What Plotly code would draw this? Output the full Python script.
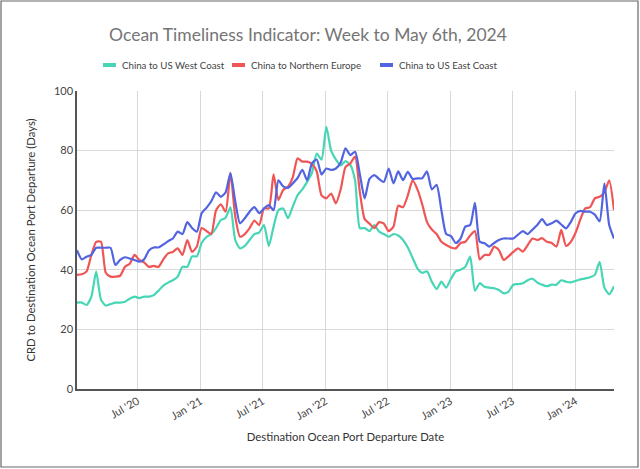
import pandas as pd
import plotly.graph_objects as go

# Biweekly dates (week ending), Jan 2020 - Apr 2024
dates = pd.date_range("2020-01-06", periods=113, freq="14D")

west_coast = [29, 29, 28.2, 31, 39.4, 30, 28, 28.5, 29, 29,
              29.3, 30.3, 31, 30.5, 31, 31, 31.5, 33, 34.7, 35.7,
              36.5, 37.7, 41, 41, 44.5, 44.5, 49, 51, 52, 54,
              56.7, 57.5, 61, 50, 47.2, 48, 50, 52, 52.5, 55,
              48, 54.5, 60, 60.6, 57.3, 61.2, 65, 67, 69.5, 72.5,
              79, 77, 88, 80, 77, 75, 76.5, 75.2, 70, 54,
              54, 53, 55, 52.8, 52, 51.1, 52, 51.5, 50, 47.5,
              44, 40.5, 39, 39.5, 36, 33.5, 36, 34, 37, 39.5,
              40, 41, 44.4, 33, 35.5, 34.3, 34, 33.8, 33.2, 32.1,
              32.7, 35, 35.2, 35.5, 36.5, 37, 35.7, 35, 34.5, 35,
              35, 36.5, 36, 35.8, 36.3, 36.8, 37.1, 37.5, 38.3, 42.7,
              34, 31.8, 34.5]

northern_europe = [38.3, 38.5, 39.5, 45, 49.4, 49.4, 39, 37.7, 37.7, 38,
                   41, 42, 45, 43.3, 42.5, 41, 41.3, 41, 43.5, 45.5,
                   46, 47.2, 45, 50, 46, 47.8, 54, 53, 52, 60,
                   62, 59.5, 72.5, 58, 51.1, 52, 54, 56.5, 55, 60.6,
                   60.6, 72, 63.4, 66.8, 67.9, 71, 77.4, 76.3, 76.3, 75.5,
                   73, 65, 64, 65.6, 62.3, 67, 74.5, 75.7, 78, 66,
                   57, 55.5, 54, 56, 55.5, 53, 54.5, 61.5, 61, 65,
                   70, 67, 62, 56, 53.5, 52, 49.4, 48.3, 47.5, 47.2,
                   49, 49.4, 51.5, 53, 43.5, 45, 45, 47.8, 46.6, 43.3,
                   44.5, 46, 47.2, 46.1, 48.3, 50.5, 50, 50.6, 49.4, 49,
                   47.8, 53.4, 48, 49.4, 52.5, 57, 60.6, 61, 64, 64.5,
                   66, 70, 60]

east_coast = [46.6, 43.5, 44.4, 45, 47.4, 47.4, 47.4, 47.4, 41.6, 43.3,
              44.2, 43.8, 43.3, 42.7, 43.5, 46.5, 47.5, 47.5, 48.5, 49.6,
              50.5, 52.8, 52, 56, 54, 52.8, 59, 60.8, 63, 66,
              64.5, 66, 72.4, 63, 55.6, 57.3, 59.5, 61, 59, 60.6,
              61.7, 60, 70, 68, 67.5, 69, 70.8, 73.5, 70.1, 75.7,
              77, 72, 74, 73.5, 74, 76, 80.8, 78.5, 79.6, 72,
              64, 70.5, 71.8, 70.5, 69.5, 74, 69, 73, 70.1, 72.9,
              70.5, 70.7, 70.7, 73, 67, 68.5, 60, 52, 51.3, 49,
              50.5, 54.5, 55, 62.5, 49.4, 48.9, 47.8, 49, 50, 50.5,
              50.5, 50.5, 51.8, 53, 52, 53.5, 55, 57, 55, 55.6,
              56.5, 55.2, 53.9, 56.1, 59, 59.8, 59.5, 59.5, 58.5, 56.3,
              69, 55, 50.5]

series_names = ["China to US West Coast", "China to Northern Europe", "China to US East Coast"]
series_colors = ["#46d6b6", "#ef5555", "#5264e0"]

tick_dates = ["2020-07-01", "2021-01-01", "2021-07-01", "2022-01-01",
              "2022-07-01", "2023-01-01", "2023-07-01", "2024-01-01"]
tick_labels = ["Jul '20", "Jan '21", "Jul '21", "Jan '22",
               "Jul '22", "Jan '23", "Jul '23", "Jan '24"]
y_ticks = [0, 20, 40, 60, 80, 100]

FONT = "Lato"
W, H = 640, 469
L, R, T, B = 77, 26, 91, 80
pw = W - L - R
ph = H - T - B


def px_x(x):
    return (x - L) / pw


def px_y(y):
    return (H - B - y) / ph


fig = go.Figure()
for name, vals, col in zip(series_names, [west_coast, northern_europe, east_coast], series_colors):
    fig.add_trace(go.Scatter(x=dates, y=vals, mode="lines", name=name, showlegend=False,
                             line=dict(color=col, width=2.2, shape="spline", smoothing=0.6)))

# manual legend: swatch + label
legend_swatch_x = [103, 232, 380]
for name, col, sx in zip(series_names, series_colors, legend_swatch_x):
    fig.add_shape(type="rect", xref="paper", yref="paper",
                  x0=px_x(sx), x1=px_x(sx + 13), y0=px_y(67), y1=px_y(63),
                  fillcolor=col, line=dict(width=0))
    fig.add_annotation(text=name, xref="paper", yref="paper", x=px_x(sx + 17), y=px_y(65),
                       xanchor="left", yanchor="middle", showarrow=False,
                       font=dict(size=9.7, color="#444444", family=FONT))

# outer frame
fig.add_shape(type="rect", xref="paper", yref="paper",
              x0=px_x(1), x1=px_x(W - 2), y0=px_y(H - 2), y1=px_y(1),
              line=dict(color="#666666", width=1.2), layer="above")

fig.update_layout(
    width=W, height=H,
    margin=dict(l=L, r=R, t=T, b=B, autoexpand=False),
    paper_bgcolor="white", plot_bgcolor="white",
    font=dict(family=FONT, color="#444444", size=11),
    title=dict(text="Ocean Timeliness Indicator: Week to May 6th, 2024",
               x=308 / W, xanchor="center", xref="container", y=1 - 35 / H, yanchor="middle", yref="container",
               font=dict(size=17.5, color="#757575", family=FONT)),
    showlegend=False,
)
fig.update_xaxes(
    range=[dates[0], dates[-1]],
    tickvals=tick_dates, ticktext=tick_labels, tickangle=-30,
    showgrid=True, gridcolor="#d9d9d9", gridwidth=1,
    showline=True, linecolor="#555555", linewidth=1.5,
    ticks="", tickfont=dict(size=11, color="#444444"),
    title=dict(text="Destination Ocean Port Departure Date", font=dict(size=11.3, color="#333333"), standoff=12),
    zeroline=False,
)
fig.update_yaxes(
    range=[0, 100], tickvals=y_ticks,
    showgrid=True, gridcolor="#d9d9d9", gridwidth=1,
    showline=True, linecolor="#555555", linewidth=1.5,
    ticks="", tickfont=dict(size=11, color="#444444"),
    title=dict(text="CRD to Destination Ocean Port Departure (Days)", font=dict(size=11.3, color="#333333"), standoff=16),
    zeroline=False,
)

fig.write_html("out.html")
